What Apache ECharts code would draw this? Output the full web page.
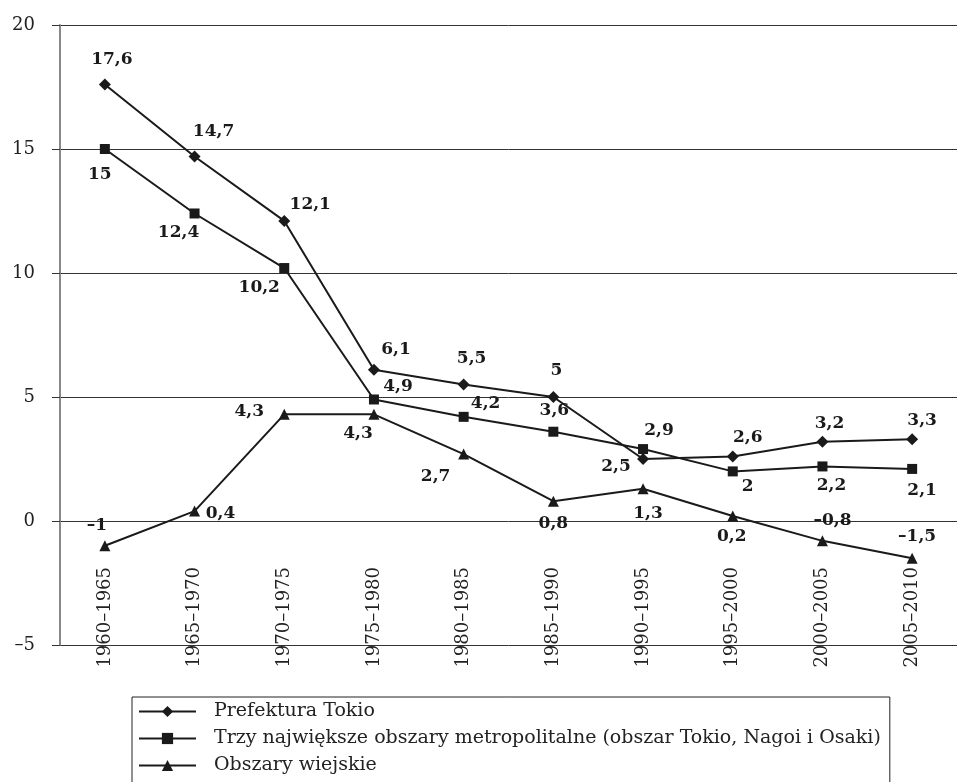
<!DOCTYPE html>
<html>
<head>
<meta charset="utf-8">
<script src="https://cdn.jsdelivr.net/npm/echarts@6/dist/echarts.min.js"></script>
<style>
  html, body { margin: 0; padding: 0; background: #fff; }
  #chart { width: 957px; height: 782px; }
</style>
</head>
<body>
<div id="chart"></div>
<script>
// periods on the x axis
const periods = ['1960–1965', '1965–1970', '1970–1975', '1975–1980', '1980–1985',
  '1985–1990', '1990–1995', '1995–2000', '2000–2005', '2005–2010']

// series values (%)
const tokio = [17.6, 14.7, 12.1, 6.1, 5.5, 5, 2.5, 2.6, 3.2, 3.3]
const metro = [15, 12.4, 10.2, 4.9, 4.2, 3.6, 2.9, 2, 2.2, 2.1]
const wiejskie = [-1, 0.4, 4.3, 4.3, 2.7, 0.8, 1.3, 0.2, -0.8, -1.5]

const names = ['Prefektura Tokio',
  'Trzy największe obszary metropolitalne (obszar Tokio, Nagoi i Osaki)',
  'Obszary wiejskie']

// label offsets from each point (px)
const tokioOff = [[7, -25], [19, -25], [26, -16], [22, -20], [8, -26], [3, -26], [-27, 8], [15, -19], [7, -18], [10, -19]]
const metroOff = [[-5, 26], [-16, 19], [-25, 20], [24, -13], [22, -13], [1, -21], [16, -19], [15, 15], [9, 19], [10, 22]]
const wiejOff = [[-8, -20], [26, 2], [-35, -3], [-16, 19], [-28, 23], [0, 22], [5, 25], [-1, 21], [10, -20], [5, -22]]

const ink = '#1a1a1a'

function fmt(v) {
  return String(v).replace('.', ',').replace('-', '–')
}

function points(values, offsets) {
  return values.map((v, i) => ({ value: v, label: { offset: offsets[i] } }))
}

function lineSeries(name, symbol, size, values, offsets) {
  return {
    name: name,
    type: 'line',
    symbol: symbol,
    symbolSize: size,
    color: ink,
    lineStyle: { color: ink, width: 2 },
    itemStyle: { color: ink },
    label: {
      show: true,
      position: 'inside',
      fontFamily: 'DejaVu Serif',
      fontWeight: 'bold',
      fontSize: 17,
      color: ink,
      formatter: p => fmt(p.value)
    },
    data: points(values, offsets),
    animation: false
  }
}

const chart = echarts.init(document.getElementById('chart'))
chart.setOption({
  backgroundColor: '#fff',
  animation: false,
  grid: { left: 60, right: 0, top: 25, bottom: 137 },
  legend: {
    orient: 'vertical',
    left: 132,
    top: 697,
    height: 140,
    itemWidth: 57,
    itemHeight: 14,
    itemGap: 8,
    padding: [5, 9, 40, 6],
    borderColor: '#222',
    borderWidth: 1,
    textStyle: {
      fontFamily: 'DejaVu Serif',
      fontSize: 19,
      color: '#222',
      padding: [0, 0, 0, 13]
    },
    data: names
  },
  xAxis: {
    type: 'category',
    data: periods,
    boundaryGap: true,
    axisLine: { show: false },
    axisTick: { show: false },
    axisLabel: {
      rotate: 90,
      margin: -78,
      fontFamily: 'DejaVu Serif',
      fontSize: 18,
      color: '#222'
    }
  },
  yAxis: {
    type: 'value',
    min: -5,
    max: 20,
    interval: 5,
    axisLine: { show: true, onZero: false, lineStyle: { color: '#888', width: 2 } },
    axisTick: { show: true, length: 8, lineStyle: { color: '#333' } },
    axisLabel: {
      margin: 25,
      fontFamily: 'DejaVu Serif',
      fontSize: 18,
      color: '#222',
      formatter: v => fmt(v)
    },
    splitLine: { show: true, lineStyle: { color: '#333', width: 1 } }
  },
  series: [
    lineSeries(names[0], 'diamond', 12, tokio, tokioOff),
    lineSeries(names[1], 'rect', 10, metro, metroOff),
    lineSeries(names[2], 'triangle', 11, wiejskie, wiejOff)
  ]
})
</script>
</body>
</html>
